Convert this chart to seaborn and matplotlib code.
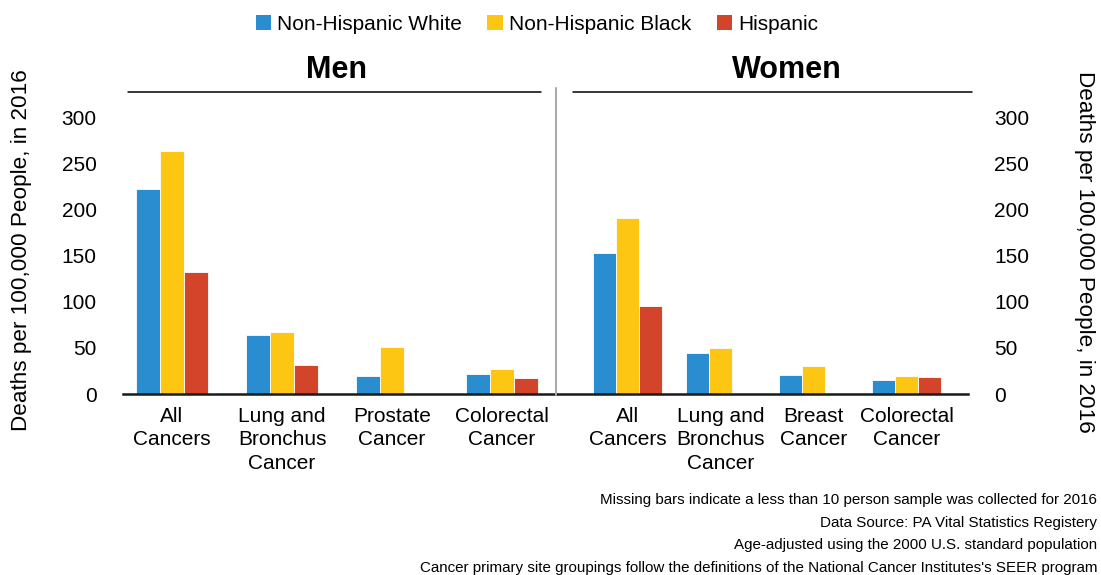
import matplotlib
matplotlib.use("Agg")
import matplotlib.pyplot as plt
from matplotlib.lines import Line2D
from matplotlib.patches import Patch
import numpy as np
import pandas as pd
import seaborn as sns

# ---- data: age-adjusted cancer deaths per 100,000, 2016 ----
groups = ["Non-Hispanic White", "Non-Hispanic Black", "Hispanic"]
colors = ["#2A8DD0", "#FDC612", "#D2452A"]

men_sites = ["All\nCancers", "Lung and\nBronchus\nCancer", "Prostate\nCancer", "Colorectal\nCancer"]
men_white = [222, 64, 19, 22]
men_black = [264, 67, 51, 27]
men_hispanic = [132, 32, np.nan, 17]

women_sites = ["All\nCancers", "Lung and\nBronchus\nCancer", "Breast\nCancer", "Colorectal\nCancer"]
women_white = [153, 44, 21, 15]
women_black = [191, 50, 30, 20]
women_hispanic = [96, np.nan, np.nan, 18]

y_ticks = [0, 50, 100, 150, 200, 250, 300]
y_label = "Deaths per 100,000 People, in 2016"
notes = [
    "Missing bars indicate a less than 10 person sample was collected for 2016",
    "Data Source: PA Vital Statistics Registery",
    "Age-adjusted using the 2000 U.S. standard population",
    "Cancer primary site groupings follow the definitions of the National Cancer Institutes's SEER program",
]


def long_table(sites, white, black, hispanic):
    rows = []
    for vals, g in zip((white, black, hispanic), groups):
        for s, v in zip(sites, vals):
            if not np.isnan(v):
                rows.append({"site": s, "group": g, "rate": v})
    return pd.DataFrame(rows)


men_df = long_table(men_sites, men_white, men_black, men_hispanic)
women_df = long_table(women_sites, women_white, women_black, women_hispanic)

sns.set_theme(style="white")
plt.rcParams["font.family"] = ["Liberation Sans", "DejaVu Sans"]
for key in ("text.color", "axes.labelcolor", "xtick.color", "ytick.color"):
    plt.rcParams[key] = "black"

W, H = 1101, 575
fig = plt.figure(figsize=(W / 100, H / 100), dpi=100)


def fx(px):
    return px / W


def fy(py):
    return 1 - py / H


y_top = 320
base_px, top_px = 394, 99
ax_m = fig.add_axes([fx(123), fy(base_px), fx(556 - 123), (base_px - top_px) / H])
ax_w = fig.add_axes([fx(556), fy(base_px), fx(968 - 556), (base_px - top_px) / H])

sns.barplot(data=men_df, x="site", y="rate", hue="group", order=men_sites,
            hue_order=groups, palette=colors, saturation=1, width=0.65,
            edgecolor="white", linewidth=0.6, legend=False, ax=ax_m)
sns.barplot(data=women_df, x="site", y="rate", hue="group", order=women_sites,
            hue_order=groups, palette=colors, saturation=1, width=0.74,
            edgecolor="white", linewidth=0.6, legend=False, ax=ax_w)

ax_m.set_xlim(-0.445, 3.49)
ax_w.set_xlim(-0.769, 3.656)

for ax in (ax_m, ax_w):
    ax.set_ylim(0, y_top)
    ax.set_xlabel("")
    ax.set_ylabel("")
    for side in ("top", "left", "right"):
        ax.spines[side].set_visible(False)
    ax.spines["bottom"].set_color("#1a1a1a")
    ax.spines["bottom"].set_linewidth(1.8)
    ax.tick_params(axis="x", length=0, pad=9, labelsize=15)
    for t in ax.get_xticklabels():
        t.set_linespacing(1.32)
    ax.patch.set_alpha(0)

ax_m.set_yticks(y_ticks)
ax_m.tick_params(axis="y", length=0, pad=19, labelsize=15)
ax_w.set_yticks(y_ticks)
ax_w.yaxis.tick_right()
ax_w.tick_params(axis="y", length=0, pad=19, labelsize=15)

# panel headings with rules beneath
fig.text(fx(336), fy(70), "Men", ha="center", va="center", fontsize=22, fontweight="bold")
fig.text(fx(787), fy(70), "Women", ha="center", va="center", fontsize=22, fontweight="bold")
fig.add_artist(Line2D([fx(128), fx(541)], [fy(92), fy(92)], color="black", lw=1.1))
fig.add_artist(Line2D([fx(573), fx(972)], [fy(92), fy(92)], color="black", lw=1.1))
fig.add_artist(Line2D([fx(556), fx(556)], [fy(88), fy(395)], color="#AAAAAA", lw=1.5))

# axis titles on both sides
fig.text(fx(22), fy(250), y_label, rotation=90, ha="center", va="center", fontsize=16.2)
fig.text(fx(1084), fy(252), y_label, rotation=270, ha="center", va="center", fontsize=16.2)

# legend
handles = [Patch(facecolor=c, edgecolor="none") for c in colors]
fig.legend(handles, groups, loc="center", bbox_to_anchor=(fx(537), fy(24)), ncol=3,
           frameon=False, fontsize=15, handlelength=0.75, handleheight=0.75,
           handletextpad=0.3, columnspacing=1.2, borderaxespad=0)

# source notes
for i, note in enumerate(notes):
    fig.text(fx(1097), fy(500 + 22.7 * i), note, ha="right", va="center", fontsize=10.9)

fig.savefig("out.png", dpi=100)
